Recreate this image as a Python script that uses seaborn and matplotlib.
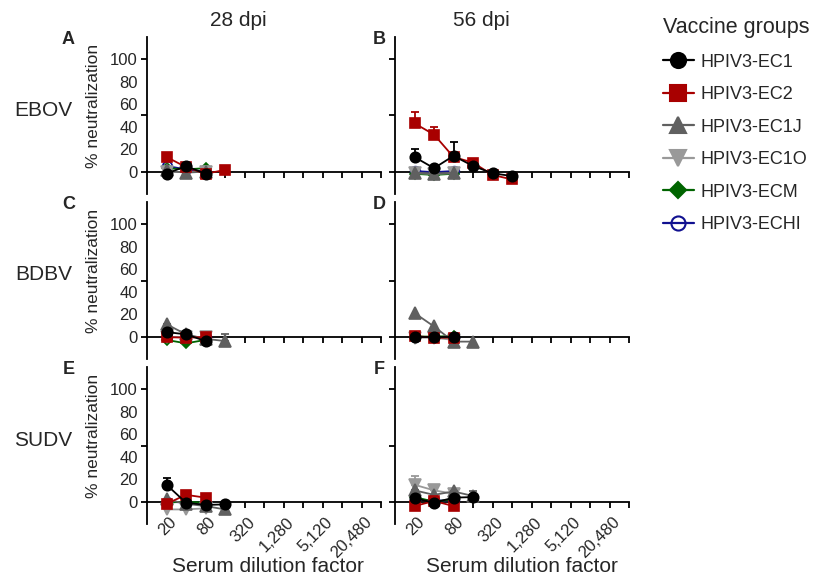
import pandas as pd
import seaborn as sns
import matplotlib.pyplot as plt
from matplotlib.lines import Line2D
from matplotlib.ticker import NullLocator, NullFormatter, FixedLocator, FixedFormatter
from matplotlib.transforms import ScaledTranslation

# Serum dilutions (1:20 ... 1:40960), log2 spaced axis
dilutions = [20, 40, 80, 160, 320, 640, 1280, 2560, 5120, 10240, 20480, 40960]
labelled_ticks = [20, 80, 320, 1280, 5120, 20480]
labelled_text = ["20", "80", "320", "1,280", "5,120", "20,480"]
y_labels = [0, 20, 40, 60, 80, 100]

groups = ["HPIV3-EC1", "HPIV3-EC2", "HPIV3-EC1J", "HPIV3-EC1O", "HPIV3-ECM", "HPIV3-ECHI"]
viruses = ["EBOV", "BDBV", "SUDV"]
timepoints = ["28 dpi", "56 dpi"]

# mean % neutralization, values start at the 1:20 dilution
ebov_28 = {
    "HPIV3-EC1": [-2, 5, -2],
    "HPIV3-EC2": [13, 4, -2, 1.5],
    "HPIV3-EC1J": [1, -1, 0],
    "HPIV3-EC1O": [0, 0, 0],
    "HPIV3-ECM": [3, 2, 3],
    "HPIV3-ECHI": [5, 2, 0],
}
ebov_28_err = {"HPIV3-EC2": [4, 0, 0, 0]}

ebov_56 = {
    "HPIV3-EC1": [13, 3, 14, 5, -1.5, -4],
    "HPIV3-EC2": [43, 33, 13, 8, -3, -7],
    "HPIV3-EC1J": [-1, -2, -1],
    "HPIV3-EC1O": [-1.5, -2, -1.5],
    "HPIV3-ECM": [-2, -3, -2],
    "HPIV3-ECHI": [0.5, -0.5, 0.5],
}
ebov_56_err = {"HPIV3-EC1": [7, 0, 12, 0, 0, 0], "HPIV3-EC2": [10, 7, 0, 0, 0, 0]}

bdbv_28 = {
    "HPIV3-EC1": [4, 2, -4],
    "HPIV3-EC2": [-0.5, -1, -0.5],
    "HPIV3-EC1J": [11, 2, -2, -4],
    "HPIV3-EC1O": [0, 0, 0],
    "HPIV3-ECM": [-3, -6, -3],
    "HPIV3-ECHI": [0, 0, 0],
}
bdbv_28_err = {"HPIV3-EC1J": [0, 0, 0, 6]}

bdbv_56 = {
    "HPIV3-EC1": [0, 0, 0],
    "HPIV3-EC2": [0.5, -1, -1],
    "HPIV3-EC1J": [21, 9, -4.5, -4.5],
    "HPIV3-EC1O": [-1, -1, -3],
    "HPIV3-ECM": [0, 0, 0.5],
    "HPIV3-ECHI": [0, 0, 0],
}
bdbv_56_err = {}

sudv_28 = {
    "HPIV3-EC1": [15, -1, -3, -2.5],
    "HPIV3-EC2": [-2, 6, 3.5],
    "HPIV3-EC1J": [2, -2, -4, -7],
    "HPIV3-EC1O": [-7, -7, -6],
    "HPIV3-ECM": [-1, 0, -1],
    "HPIV3-ECHI": [0, -1, -1],
}
sudv_28_err = {"HPIV3-EC1": [6, 0, 0, 0]}

sudv_56 = {
    "HPIV3-EC1": [3, -1, 3.5, 4],
    "HPIV3-EC2": [-4, 0.5, -4],
    "HPIV3-EC1J": [10, 6, 9, 5],
    "HPIV3-EC1O": [15, 10, 7],
    "HPIV3-ECM": [4, 0, 2],
    "HPIV3-ECHI": [2, 1, 1],
}
sudv_56_err = {"HPIV3-EC1J": [0, 0, 0, 4], "HPIV3-EC1O": [8, 2, 2]}

panels = {
    ("EBOV", "28 dpi"): (ebov_28, ebov_28_err),
    ("EBOV", "56 dpi"): (ebov_56, ebov_56_err),
    ("BDBV", "28 dpi"): (bdbv_28, bdbv_28_err),
    ("BDBV", "56 dpi"): (bdbv_56, bdbv_56_err),
    ("SUDV", "28 dpi"): (sudv_28, sudv_28_err),
    ("SUDV", "56 dpi"): (sudv_56, sudv_56_err),
}

rows = []
for (virus, tp), (means, errs) in panels.items():
    for g, vals in means.items():
        e = errs.get(g, [0] * len(vals))
        for k, v in enumerate(vals):
            rows.append({"virus": virus, "dpi": tp, "group": g,
                         "dilution": dilutions[k], "value": v, "err": e[k]})
df = pd.DataFrame(rows)

styles = {
    "HPIV3-EC1": dict(color="black", marker="o", ms=7.5, mfc="black"),
    "HPIV3-EC2": dict(color="#a80000", marker="s", ms=7.5, mfc="#a80000"),
    "HPIV3-EC1J": dict(color="#606060", marker="^", ms=8, mfc="#606060"),
    "HPIV3-EC1O": dict(color="#999999", marker="v", ms=8, mfc="#999999"),
    "HPIV3-ECM": dict(color="#006400", marker="D", ms=5.5, mfc="#006400"),
    "HPIV3-ECHI": dict(color="#101090", marker="o", ms=7, mfc="none"),
}

sns.set_style("ticks")
plt.rcParams["font.family"] = ["Liberation Sans", "DejaVu Sans"]

W, H = 814, 582
fig = plt.figure(figsize=(W / 100, H / 100), dpi=100)

col_x = [147, 395]
row_top = [37, 202, 367]
ax_w, ax_h = 234, 157
letters = [["A", "B"], ["C", "D"], ["E", "F"]]
shift = ScaledTranslation(8 / 100, 0, fig.dpi_scale_trans)

for i, virus in enumerate(viruses):
    for j, tp in enumerate(timepoints):
        ax = fig.add_axes([col_x[j] / W, 1 - (row_top[i] + ax_h) / H, ax_w / W, ax_h / H])
        ax.set_xscale("log", base=2)
        sub = df[(df.virus == virus) & (df.dpi == tp)]
        for z, g in enumerate(reversed(groups)):
            d = sub[sub.group == g]
            st = styles[g]
            sns.lineplot(data=d, x="dilution", y="value", ax=ax, errorbar=None,
                         color=st["color"], marker=st["marker"], markersize=st["ms"],
                         markerfacecolor=st["mfc"], markeredgecolor=st["color"],
                         markeredgewidth=1.2, linewidth=1.3, zorder=3 + z, clip_on=False)
            if (d.err > 0).any():
                ax.errorbar(d.dilution, d.value, yerr=[[0] * len(d), d.err], fmt="none",
                            ecolor=st["color"], elinewidth=1.3, capsize=3, capthick=1.3,
                            zorder=3 + z, clip_on=False)

        ax.set_xlim(10, 40960)
        ax.set_ylim(-20, 120)
        ax.set_xlabel("")
        ax.set_ylabel("")
        for s in ["top", "right"]:
            ax.spines[s].set_visible(False)
        ax.spines["bottom"].set_position(("data", 0))
        for s in ["left", "bottom"]:
            ax.spines[s].set_linewidth(1.3)
            ax.spines[s].set_color("black")

        ax.xaxis.set_major_locator(FixedLocator(dilutions))
        ax.xaxis.set_minor_locator(NullLocator())
        ax.tick_params(axis="x", which="major", direction="out", length=4, width=1.3,
                       labelsize=12, pad=9, color="black")
        if i == 2:
            ax.set_xticklabels([labelled_text[labelled_ticks.index(t)] if t in labelled_ticks else ""
                                for t in dilutions])
            for lab in ax.get_xticklabels():
                lab.set_rotation(45)
                lab.set_ha("right")
                lab.set_va("center")
                lab.set_rotation_mode("anchor")
                lab.set_transform(lab.get_transform() + shift)
        else:
            ax.xaxis.set_major_formatter(NullFormatter())

        # tick marks at 0/50/100, numbers at every 20
        ax.yaxis.remove_overlapping_locs = False
        ax.yaxis.set_major_locator(FixedLocator([0, 50, 100]))
        ax.yaxis.set_major_formatter(NullFormatter())
        ax.yaxis.set_minor_locator(FixedLocator(y_labels))
        if j == 0:
            ax.yaxis.set_minor_formatter(FixedFormatter([str(v) for v in y_labels]))
        else:
            ax.yaxis.set_minor_formatter(NullFormatter())
        ax.tick_params(axis="y", which="major", direction="out", length=4, width=1.3, color="black")
        ax.tick_params(axis="y", which="minor", length=0, labelsize=12, pad=6.5)

        if j == 0:
            fig.text(94 / W, 1 - (row_top[i] + 68.5) / H, "% neutralization", rotation=90,
                     ha="center", va="center", fontsize=12.5)
            fig.text(72 / W, 1 - (row_top[i] + 73) / H, virus, ha="right", va="center", fontsize=15)
        lx = [68.5, 379.5][j]
        fig.text(lx / W, 1 - (row_top[i] + 2.5) / H, letters[i][j], ha="center", va="center",
                 fontsize=13, fontweight="bold")

fig.text(238 / W, 1 - 20 / H, "28 dpi", ha="center", va="center", fontsize=15)
fig.text(481 / W, 1 - 20 / H, "56 dpi", ha="center", va="center", fontsize=15)
fig.text(268 / W, 1 - 567 / H, "Serum dilution factor", ha="center", va="center", fontsize=15)
fig.text(522 / W, 1 - 567 / H, "Serum dilution factor", ha="center", va="center", fontsize=15)

handles = []
for g in groups:
    st = styles[g]
    handles.append(Line2D([], [], color=st["color"], marker=st["marker"], markersize=st["ms"] * 1.45,
                          markerfacecolor=st["mfc"], markeredgecolor=st["color"],
                          markeredgewidth=1.5, linewidth=1.6))
fig.legend(handles, groups, loc="upper left", bbox_to_anchor=(663 / W, 1 - 17 / H),
           frameon=False, title="Vaccine groups", title_fontsize=15.5, fontsize=13,
           handlelength=1.7, handletextpad=0.4, labelspacing=0.86, alignment="left",
           borderaxespad=0, borderpad=0)

fig.savefig("out.png", dpi=100)
